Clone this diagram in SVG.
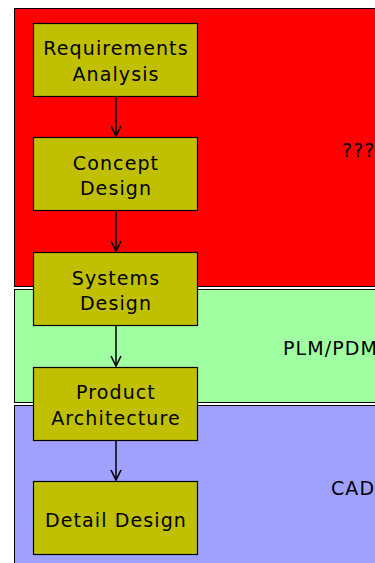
<svg xmlns="http://www.w3.org/2000/svg" width="375" height="563" viewBox="0 0 375 563">
<style>
.lane{stroke:#000;stroke-width:1}
.node rect{fill:#c0c000;stroke:#000;stroke-width:1.2}
text{font-family:"DejaVu Sans",sans-serif;font-size:19px;letter-spacing:1.1px;fill:#000}
.nt{text-anchor:middle}
.edge{stroke:#000;stroke-width:1.5;fill:none}
</style>
<defs>
<marker id="ah" markerWidth="12" markerHeight="14" refX="11" refY="6" orient="auto" markerUnits="userSpaceOnUse">
<path d="M1,1 L11,6 L1,11" fill="none" stroke="#000" stroke-width="1.6"/>
</marker>
</defs>
<rect width="375" height="563" fill="#fff"/>
<g id="lane-top">
<rect class="lane" x="14.5" y="8.5" width="400" height="278" fill="#ff0000"/>
<text x="342" y="157">???</text>
</g>
<g id="lane-plm">
<rect class="lane" x="14.5" y="289.5" width="400" height="113" fill="#a0ffa0"/>
<text x="283" y="355">PLM/PDM</text>
</g>
<g id="lane-cad">
<rect class="lane" x="14.5" y="405.5" width="400" height="170" fill="#a0a0ff"/>
<text x="331" y="495">CAD</text>
</g>
<g id="connectors">
<line class="edge" x1="116" y1="97" x2="116" y2="136" marker-end="url(#ah)"/>
<line class="edge" x1="116" y1="211" x2="116" y2="251" marker-end="url(#ah)"/>
<line class="edge" x1="116" y1="326" x2="116" y2="366" marker-end="url(#ah)"/>
<line class="edge" x1="116" y1="440" x2="116" y2="480" marker-end="url(#ah)"/>
</g>
<g id="n1" class="node">
<rect x="33.5" y="23.5" width="164" height="73"/>
<text class="nt" x="116" y="55">Requirements</text>
<text class="nt" x="116" y="81">Analysis</text>
</g>
<g id="n2" class="node">
<rect x="33.5" y="137.5" width="164" height="73"/>
<text class="nt" x="116" y="170">Concept</text>
<text class="nt" x="116" y="195">Design</text>
</g>
<g id="n3" class="node">
<rect x="33.5" y="252.5" width="164" height="73"/>
<text class="nt" x="116" y="285">Systems</text>
<text class="nt" x="116" y="310">Design</text>
</g>
<g id="n4" class="node">
<rect x="33.5" y="367.5" width="164" height="73"/>
<text class="nt" x="116" y="399">Product</text>
<text class="nt" x="116" y="425">Architecture</text>
</g>
<g id="n5" class="node">
<rect x="33.5" y="481.5" width="164" height="73"/>
<text class="nt" x="116" y="527">Detail Design</text>
</g>
</svg>
